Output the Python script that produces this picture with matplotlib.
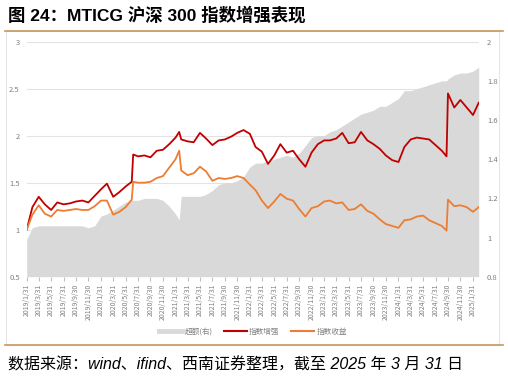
import matplotlib
matplotlib.use("Agg")
import matplotlib.pyplot as plt
from matplotlib.lines import Line2D
from matplotlib.patches import Rectangle
import pandas as pd

plt.rcParams['font.family'] = ['Noto Sans CJK SC', 'DejaVu Sans']

# month-end sample dates plus a few extra days around the sharp moves
month_ends = pd.date_range('2019-01-31', '2025-02-28', freq='ME')
extra_days = pd.to_datetime(['2020-07-07', '2021-02-18', '2024-09-23'])
dates = month_ends.union(extra_days)

# 指数增强 (left axis)
enhanced = [
    1.00, 1.24, 1.35, 1.27, 1.21, 1.29, 1.27, 1.28, 1.30, 1.31, 1.29, 1.36,          # 2019
    1.43, 1.49, 1.35, 1.40, 1.46, 1.51, 1.80, 1.78, 1.79, 1.77, 1.84, 1.85, 1.91,    # 2020
    1.98, 2.04, 1.96, 1.94, 1.93, 2.03, 1.97, 1.90, 1.95, 1.96, 1.99, 2.03, 2.06,    # 2021
    2.02, 1.88, 1.83, 1.70, 1.79, 1.91, 1.82, 1.84, 1.75, 1.67, 1.82, 1.91,          # 2022
    1.95, 1.95, 1.97, 2.03, 1.92, 1.93, 2.04, 1.95, 1.91, 1.86, 1.79, 1.74,          # 2023
    1.72, 1.88, 1.96, 1.98, 1.97, 1.96, 1.90, 1.84, 1.78, 2.45, 2.30, 2.38, 2.30,    # 2024
    2.22, 2.35,                                                                      # 2025
]

# 指数收益 (left axis)
index_ret = [
    1.00, 1.16, 1.26, 1.17, 1.14, 1.21, 1.20, 1.21, 1.22, 1.21, 1.21, 1.25,
    1.31, 1.31, 1.16, 1.19, 1.24, 1.32, 1.51, 1.50, 1.50, 1.51, 1.55, 1.57, 1.66,
    1.75, 1.84, 1.63, 1.58, 1.60, 1.67, 1.62, 1.52, 1.55, 1.54, 1.55, 1.57, 1.55,
    1.48, 1.42, 1.31, 1.23, 1.30, 1.38, 1.33, 1.31, 1.22, 1.14, 1.23, 1.25,
    1.30, 1.31, 1.28, 1.29, 1.21, 1.22, 1.27, 1.20, 1.17, 1.11, 1.06, 1.04,
    1.02, 1.10, 1.11, 1.14, 1.15, 1.10, 1.07, 1.04, 0.99, 1.32, 1.25, 1.26, 1.24,
    1.19, 1.24,
]

# 超额(右) (right axis)
excess = [
    0.99, 1.05, 1.06, 1.06, 1.06, 1.06, 1.06, 1.06, 1.06, 1.06, 1.05, 1.06,
    1.11, 1.12, 1.14, 1.16, 1.18, 1.19, 1.19, 1.19, 1.20, 1.20, 1.20, 1.19, 1.16,
    1.12, 1.09, 1.21, 1.21, 1.21, 1.21, 1.22, 1.24, 1.27, 1.28, 1.28, 1.29, 1.31,
    1.36, 1.38, 1.38, 1.39, 1.40, 1.41, 1.42, 1.41, 1.43, 1.47, 1.51, 1.52,
    1.52, 1.54, 1.55, 1.57, 1.59, 1.61, 1.63, 1.64, 1.65, 1.67, 1.67, 1.69,
    1.71, 1.75, 1.75, 1.76, 1.77, 1.78, 1.79, 1.80, 1.80, 1.81, 1.83, 1.84, 1.84,
    1.85, 1.87,
]

tick_dates = pd.date_range('2019-01-31', '2025-01-31', freq='2ME')
tick_labels = [f"{d.year}/{d.month}/{d.day}" for d in tick_dates]

RED = '#C00000'
ORANGE = '#ED7D31'
GRAY = '#D9D9D9'
TXT = '#808080'

fig = plt.figure(figsize=(5.08, 3.78), dpi=100)
rect = [26.7 / 508, 1 - 276.7 / 378, 452 / 508, 235 / 378]

# grid + left axis
ax1 = fig.add_axes(rect)
ax1.set_ylim(0.5, 3)
ax1.set_yticks([0.5, 1, 1.5, 2, 2.5, 3])
ax1.set_yticklabels(['0.5', '1', '1.5', '2', '2.5', '3'])
ax1.grid(axis='y', color='#E3E3E3', lw=0.8)
ax1.set_axisbelow(True)

# gray excess area on right axis
ax2 = ax1.twinx()
ax2.fill_between(dates, 0.8, excess, color=GRAY, lw=0)
ax2.set_ylim(0.8, 2.0)
ax2.set_yticks([0.8, 1, 1.2, 1.4, 1.6, 1.8, 2])
ax2.set_yticklabels(['0.8', '1', '1.2', '1.4', '1.6', '1.8', '2'])

# lines on top, same scale as left axis
ax3 = ax1.twinx()
ax3.set_ylim(0.5, 3)
ax3.plot(dates, enhanced, color=RED, lw=1.3)
ax3.plot(dates, index_ret, color=ORANGE, lw=1.3)
ax3.set_yticks([])

for ax in (ax1, ax2, ax3):
    ax.set_xlim(dates[0], dates[-1])
    for s in ax.spines.values():
        s.set_visible(False)
    ax.tick_params(axis='y', length=0, labelsize=5.5, labelcolor=TXT)

ax1.tick_params(axis='y', pad=5)
ax2.tick_params(axis='y', pad=6)
ax1.set_xticks(tick_dates)
ax1.set_xticklabels(tick_labels, rotation=90, fontsize=5, color=TXT)
ax1.tick_params(axis='x', length=3, color='#BFBFBF', pad=2)
for ax in (ax2, ax3):
    ax.tick_params(axis='x', bottom=False, labelbottom=False)

handles = [
    Line2D([], [], color=GRAY, lw=3.5),
    Line2D([], [], color=RED, lw=1.5),
    Line2D([], [], color=ORANGE, lw=1.5),
]
fig.legend(handles, ['超额(右)', '指数增强', '指数收益'], loc='center',
           bbox_to_anchor=(253 / 508, 1 - 332 / 378), ncol=3, frameon=False,
           fontsize=5.5, labelcolor=TXT, handlelength=3, columnspacing=1.5,
           handletextpad=0.3)

# frame decoration
fig.add_artist(Rectangle((6 / 508, 1 - 345 / 378), 493 / 508, 314 / 378,
                         transform=fig.transFigure, fill=False,
                         edgecolor='#E0E0E0', lw=0.6))
for yy in (31, 345):
    fig.add_artist(Line2D([5 / 508, 503 / 508], [1 - yy / 378] * 2,
                          color='#C8965A', lw=1.2))

fig.text(8 / 508, 1 - 15 / 378, '图 24：MTICG 沪深 300 指数增强表现',
         fontsize=12.5, fontweight='bold', va='center', ha='left',
         family=['Liberation Sans', 'Noto Sans CJK SC'])
fig.text(8 / 508, 1 - 365 / 378,
         '数据来源：wind、ifind、西南证券整理，截至 2025 年 3 月 31 日',
         fontsize=11.5, style='italic', va='center', ha='left',
         family=['Liberation Sans', 'Noto Sans CJK SC'])

fig.savefig('out.png', dpi=100)
